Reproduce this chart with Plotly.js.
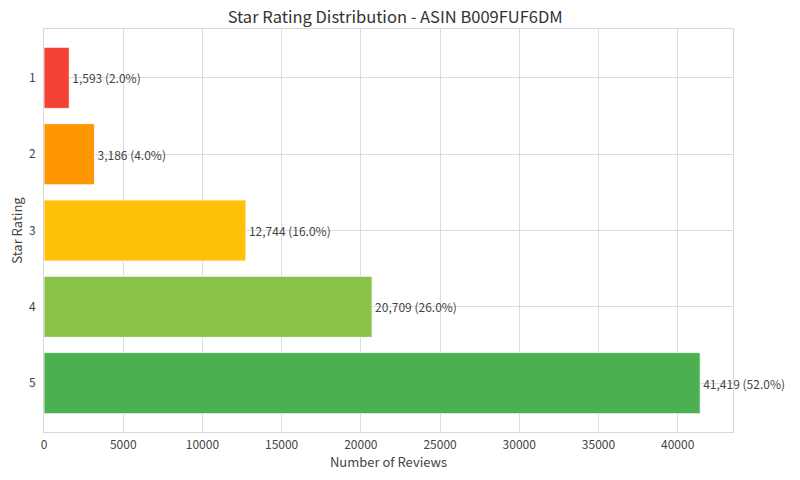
<!DOCTYPE html>
<html><head><meta charset="utf-8">
<script src="https://cdn.plot.ly/plotly-3.0.1.min.js"></script>
<style>html,body{margin:0;padding:0;background:#fff}</style>
</head><body><div id="chart" style="width:800px;height:480px"></div>
<script>
const ratings = [1, 2, 3, 4, 5];
const counts = [1593, 3186, 12744, 20709, 41419];
const percents = [2.0, 4.0, 16.0, 26.0, 52.0];
const colors = ['#F44336', '#FF9800', '#FFC107', '#8BC34A', '#4CAF50'];
const labels = counts.map((c, i) => c.toLocaleString('en-US') + ' (' + percents[i].toFixed(1) + '%)');
const FONT = '"Noto Sans CJK JP", "Noto Sans", sans-serif';
Plotly.newPlot('chart', [{
  type: 'bar', orientation: 'h',
  x: counts, y: ratings,
  marker: {color: colors, line: {color: 'rgba(255,255,255,0.8)', width: 1}},
  text: labels, textposition: 'outside', cliponaxis: false,
  textfont: {size: 12, color: '#444', family: FONT},
  width: 0.8
}], {
  width: 800, height: 480,
  margin: {l: 44, r: 67, t: 29, b: 48},
  paper_bgcolor: '#fff', plot_bgcolor: '#fff',
  font: {family: FONT, color: '#444', size: 12},
  title: {text: 'Star Rating Distribution - ASIN B009FUF6DM', x: 0.494, xanchor: 'center', y: 0.965, yanchor: 'middle', font: {size: 16.5, color: '#333', family: FONT}},
  xaxis: {range: [0, 43490], dtick: 5000, tickformat: 'd', gridcolor: '#dcdcdc', showline: true, linecolor: '#d8d8d8', mirror: true, zeroline: false,
    ticks: 'outside', ticklen: 2, tickcolor: 'rgba(0,0,0,0)',
    title: {text: 'Number of Reviews', standoff: 6, font: {size: 13, color: '#444'}}, tickfont: {size: 12}},
  yaxis: {range: [5.64, 0.36], tickvals: ratings, ticktext: ratings.map(String), gridcolor: '#dcdcdc', showline: true, linecolor: '#d8d8d8', mirror: true, zeroline: false,
    ticks: 'outside', ticklen: 5, tickcolor: 'rgba(0,0,0,0)',
    title: {text: 'Star Rating', standoff: 3, font: {size: 13, color: '#444'}}, tickfont: {size: 12}},
  showlegend: false
}, {displayModeBar: false});
</script></body></html>
